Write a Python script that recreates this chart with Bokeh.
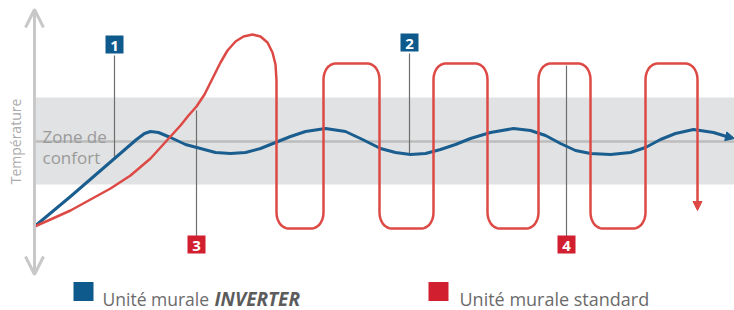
import math
from bokeh.plotting import figure
from bokeh.models import Range1d, Arrow, NormalHead, OpenHead
from bokeh.core.properties import value
from bokeh.embed import file_html
from bokeh.resources import INLINE

# ---------------- data (pixel-like units) ----------------
# INVERTER unit temperature curve (time, temperature)
blue_t = [34, 70, 114, 136, 144, 150, 158, 170, 185, 200, 215, 230, 245, 260, 275,
          290, 305, 325, 345, 362, 380, 395, 410, 425, 440, 455, 470, 490, 513, 530,
          545, 560, 575, 590, 610, 630, 645, 660, 675, 693, 713, 726]
blue_v = [226, 196, 158, 139, 133, 131, 132, 137, 144, 148, 152, 153, 152, 148, 142,
          136, 131, 128, 131, 139, 148, 152, 154, 153, 149, 144, 138, 132, 128, 130,
          135, 143, 150, 153, 154, 152, 147, 139, 133, 129, 132, 136]

# standard unit: initial overshoot
red_rise_t = [34, 50, 70, 90, 110, 130, 150, 160, 170, 180, 188, 196, 204, 212, 220,
              227, 235, 243, 252, 260, 267, 272, 275, 276]
red_rise_v = [226, 219, 210, 199, 188, 175, 158, 147, 136, 125, 115, 106, 94, 78, 62,
              50, 41, 36, 34, 36, 42, 52, 64, 80]
# standard unit: on/off cycling
red_down_t = [276, 379, 487, 590, 697]
red_up_t = [323, 433, 538, 645]
red_high = 63
red_low = 228
red_end = 203

band_low, band_high = 184, 97
comfort = 141
axis_x = 34

labels = ["1", "2", "3", "4"]
label_t = [114, 409, 196, 566]
label_v = [44, 42, 244, 244]
label_colors = ["#0f5a8c", "#0f5a8c", "#d21f30", "#d21f30"]
pointer_from = [55, 53, 110, 65]
pointer_to = [157, 154, 236, 236]

legend_names = ["Unité murale", "Unité murale standard"]
legend_colors = ["#0f5a8c", "#d21f30"]

BLUE = "#1a5d8f"
RED = "#dd4a45"

W, H = 734, 310

# ---------------- build red path ----------------
rx, ry = 12, 16


def arc(cx, cy, t0, t1, n=8):
    xs, ys = [], []
    for i in range(n + 1):
        t = t0 + (t1 - t0) * i / n
        xs.append(cx + rx * math.cos(t))
        ys.append(cy + ry * math.sin(t))
    return xs, ys


rxs = list(red_rise_t)
rys = list(red_rise_v)
for i, xd in enumerate(red_down_t):
    if i == len(red_down_t) - 1:
        rxs.append(xd)
        rys.append(red_end)
        break
    xu = red_up_t[i]
    a = arc(xd + rx, red_low - ry, math.pi, math.pi / 2)
    rxs += a[0]; rys += a[1]
    a = arc(xu - rx, red_low - ry, math.pi / 2, 0)
    rxs += a[0]; rys += a[1]
    a = arc(xu + rx, red_high + ry, math.pi, 1.5 * math.pi)
    rxs += a[0]; rys += a[1]
    xn = red_down_t[i + 1]
    a = arc(xn - rx, red_high + ry, 1.5 * math.pi, 2 * math.pi)
    rxs += a[0]; rys += a[1]

# ---------------- figure ----------------
p = figure(width=W, height=H, output_backend="svg", toolbar_location=None,
           x_range=Range1d(0, W), y_range=Range1d(H, 0),
           min_border=0, outline_line_color=None)
p.axis.visible = False
p.grid.visible = False
p.background_fill_color = "white"

# comfort zone
p.quad(left=[axis_x], right=[W], top=[band_high], bottom=[band_low],
       fill_color="#e1e2e3", line_color=None)
p.line([axis_x, W], [comfort, comfort], line_color="#bcbcbc", line_width=2.5)

# vertical axis with arrows
p.add_layout(Arrow(x_start=axis_x, y_start=274, x_end=axis_x, y_end=9,
                   line_color="#c8c8c8", line_width=3,
                   start=OpenHead(size=18, line_color="#c8c8c8", line_width=3),
                   end=OpenHead(size=18, line_color="#c8c8c8", line_width=3)))

p.text(x=[15], y=[141], text=["Température"], angle=math.pi / 2,
       text_font=value("Open Sans"), text_font_size=value("14px"),
       text_color="#ababab", text_align="center", text_baseline="middle")
p.text(x=[42, 42], y=[136, 157], text=["Zone de", "confort"],
       text_font=value("Open Sans"), text_font_size=value("17px"),
       text_color="#9a9a9a", text_align="left", text_baseline="alphabetic")

# pointer lines
p.segment(x0=label_t, y0=pointer_from, x1=label_t, y1=pointer_to,
          line_color="#6e6e6e", line_width=1.2)

# curves
p.line(blue_t, blue_v, line_color=BLUE, line_width=3, line_join="round", line_cap="round")
p.add_layout(Arrow(x_start=blue_t[-1], y_start=blue_v[-1], x_end=734, y_end=138,
                   line_alpha=0, line_width=0,
                   end=NormalHead(size=9, fill_color=BLUE, line_color=BLUE)))
p.line(rxs, rys, line_color=RED, line_width=2.5, line_join="round", line_cap="round")
p.add_layout(Arrow(x_start=red_down_t[-1], y_start=red_end - 4, x_end=red_down_t[-1], y_end=210,
                   line_alpha=0, line_width=0,
                   end=NormalHead(size=9, fill_color=RED, line_color=RED)))

# number labels
p.rect(x=label_t, y=label_v, width=18, height=18, fill_color=label_colors, line_color=None)
p.text(x=label_t, y=[v + 1 for v in label_v], text=labels,
       text_font=value("Open Sans"), text_font_size=value("15px"), text_font_style="bold",
       text_color="white", text_align="center", text_baseline="middle")

# legend
p.rect(x=[83, 438], y=[291, 291], width=20, height=19, fill_color=legend_colors, line_color=None)
p.text(x=[102], y=[298], text=[legend_names[0]],
       text_font=value("Open Sans"), text_font_size=value("17.5px"),
       text_color="#6b6b6b", text_align="left", text_baseline="alphabetic")
p.text(x=[459], y=[298], text=[legend_names[1]],
       text_font=value("Open Sans"), text_font_size=value("18px"),
       text_color="#6b6b6b", text_align="left", text_baseline="alphabetic")
p.text(x=[214], y=[298], text=["INVERTER"],
       text_font=value("Open Sans"), text_font_size=value("19px"), text_font_style="bold italic",
       text_color="#5c5c5c", text_align="left", text_baseline="alphabetic")

open("out.html", "w").write(file_html(p, INLINE))
